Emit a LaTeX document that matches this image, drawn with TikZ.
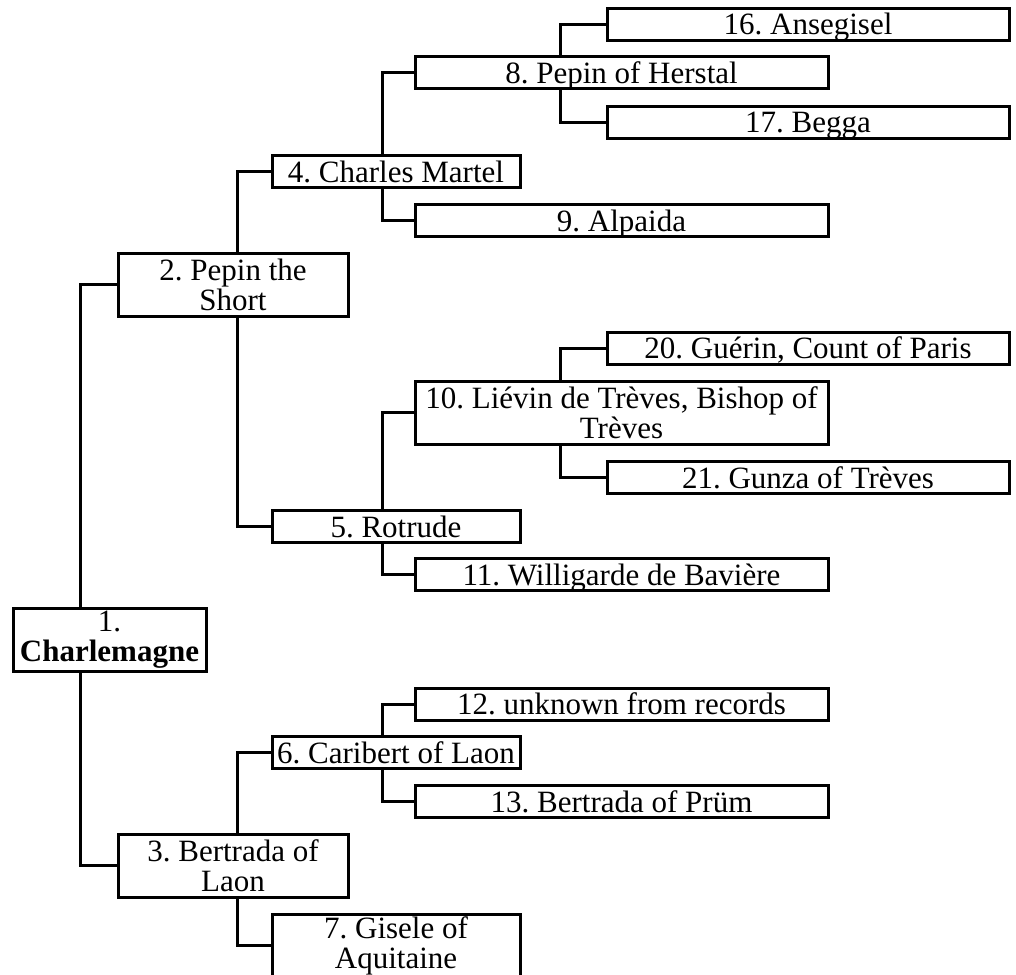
\documentclass[tikz,border=0pt]{standalone}
\usepackage{fontspec}
\setmainfont{Liberation Serif}
\frenchspacing
\begin{document}
\begin{tikzpicture}[x=0.5pt, y=-0.5pt,
  persoon/.style={draw, line width=1.5pt, inner sep=0pt, align=center,
    font=\fontsize{15.5}{15}\selectfont},
  smal/.style={minimum height=16pt, text height=10.5pt, text depth=0pt},
  hoog/.style={minimum height=31.5pt},
  gen0/.style={persoon, minimum width=96.5pt},
  gen1/.style={persoon, minimum width=115pt},
  gen2/.style={persoon, minimum width=124pt},
  gen3/.style={persoon, minimum width=206.5pt},
  gen4/.style={persoon, minimum width=201pt},
  lijn/.style={line width=1.5pt}]
\useasboundingbox (0,0) rectangle (1016,974);

% kolommen voor de verbindingslijnen
\coordinate (k1) at (80,0);
\coordinate (k2) at (237,0);
\coordinate (k3) at (382,0);
\coordinate (k4) at (560,0);

% generatie 0 en 1
\node[gen0, hoog] (n1) at (109.5,639.5) {1.\\\textbf{Charlemagne}};
\node[gen1, hoog] (n2) at (233,284.5) {2. Pepin the\\Short};
\node[gen1, hoog] (n3) at (233,865.5) {3. Bertrada of\\Laon};

% generatie 2
\node[gen2, smal] (n4) at (396,171.5) {4. Charles Martel};
\node[gen2, smal] (n5) at (396,526.5) {5. Rotrude};
\node[gen2, smal] (n6) at (396,752.5) {6. Caribert of Laon};
\node[gen2, hoog] (n7) at (396,945.5) {7. Gisele of\\Aquitaine};

% generatie 3
\node[gen3, smal] (n8) at (621.5,73) {8. Pepin of Herstal};
\node[gen3, smal] (n9) at (621.5,220.5) {9. Alpaida};
\node[gen3, hoog] (n10) at (621.5,412.5) {10. Liévin de Trèves, Bishop of\\Trèves};
\node[gen3, smal] (n11) at (621.5,574.5) {11. Willigarde de Bavière};
\node[gen3, smal] (n12) at (621.5,704) {12. unknown from records};
\node[gen3, smal] (n13) at (621.5,801.5) {13. Bertrada of Prüm};

% generatie 4
\node[gen4, smal] (n16) at (808,24.5) {16. Ansegisel};
\node[gen4, smal] (n17) at (808,122.5) {17. Begga};
\node[gen4, smal] (n20) at (808,348) {20. Guérin, Count of Paris};
\node[gen4, smal] (n21) at (808,477.5) {21. Gunza of Trèves};

% verbindingen
\draw[lijn] (n1.north -| k1) |- (n2.west);
\draw[lijn] (n1.south -| k1) |- (n3.west);
\draw[lijn] (n2.north -| k2) |- (n4.west);
\draw[lijn] (n2.south -| k2) |- (n5.west);
\draw[lijn] (n3.north -| k2) |- (n6.west);
\draw[lijn] (n3.south -| k2) |- (n7.west);
\draw[lijn] (n4.north -| k3) |- (n8.west);
\draw[lijn] (n4.south -| k3) |- (n9.west);
\draw[lijn] (n5.north -| k3) |- (n10.west);
\draw[lijn] (n5.south -| k3) |- (n11.west);
\draw[lijn] (n6.north -| k3) |- (n12.west);
\draw[lijn] (n6.south -| k3) |- (n13.west);
\draw[lijn] (n8.north -| k4) |- (n16.west);
\draw[lijn] (n8.south -| k4) |- (n17.west);
\draw[lijn] (n10.north -| k4) |- (n20.west);
\draw[lijn] (n10.south -| k4) |- (n21.west);
\end{tikzpicture}
\end{document}
